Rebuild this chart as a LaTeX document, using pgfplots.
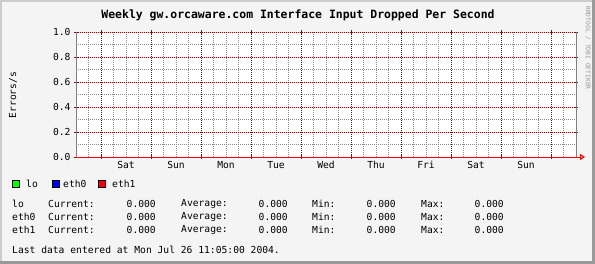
\documentclass[border=0pt]{standalone}
\usepackage{pgfplots}
\pgfplotsset{compat=1.18}
\usepackage{fontspec}
\setmainfont{DejaVu Sans Mono}
\setmonofont{DejaVu Sans Mono}
\usetikzlibrary{arrows.meta}
\definecolor{bg}{RGB}{244,244,244}
\definecolor{lightborder}{RGB}{204,204,204}
\definecolor{darkborder}{RGB}{153,153,153}
\definecolor{gridred}{RGB}{150,0,0}
\definecolor{gridgray}{RGB}{140,140,140}
\definecolor{axgray}{RGB}{128,128,128}
\definecolor{rrdgreen}{RGB}{0,255,0}
\definecolor{rrdblue}{RGB}{0,0,255}
\definecolor{rrdred}{RGB}{255,0,0}
\newcommand{\sm}{\fontsize{9.7}{11}\selectfont}
\begin{document}
\begin{tikzpicture}
\useasboundingbox (0,0) rectangle (595bp,-264bp);
\fill[bg] (0,0) rectangle (595bp,-264bp);
\fill[lightborder] (0,0) rectangle (2bp,-264bp);
\fill[lightborder] (0,0) rectangle (595bp,-2bp);
\fill[darkborder] (592bp,0) rectangle (595bp,-264bp);
\fill[darkborder] (0,-261bp) rectangle (595bp,-264bp);
\fill[white] (76bp,-32bp) rectangle (576bp,-157bp);
\begin{axis}[
  at={(76bp,-157bp)}, anchor=south west,
  scale only axis, width=500bp, height=125bp,
  xmin=0, xmax=240, ymin=0, ymax=1,
  clip=false,
  axis line style={draw=none},
  xtick={12,36,60,84,108,132,156,180,204,228},
  xticklabels={,,,,,,,,,},
  extra x ticks={24,48,72,96,120,144,168,192,216},
  extra x tick labels={Sat,Sun,Mon,Tue,Wed,Thu,Fri,Sat,Sun},
  extra x tick style={grid=none, major tick length=0pt},
  minor xtick={0,6,18,24,30,42,48,54,66,72,78,90,96,102,114,120,126,138,144,150,162,168,174,186,192,198,210,216,222,234,240},
  ytick={0,0.2,0.4,0.6,0.8,1},
  minor ytick={0.1,0.3,0.5,0.7,0.9},
  grid=both,
  major grid style={draw=gridred, dash pattern=on 1bp off 1bp, line width=1bp},
  minor grid style={draw=gridgray, dash pattern=on 1bp off 1bp, line width=1bp},
  tick style={draw=gridred, line width=1bp},
  major tick length=4bp, minor tick length=0pt,
  tick align=center,
  /pgf/number format/assume math mode=true,
  yticklabel={\pgfmathprintnumber[fixed,fixed zerofill,precision=1]{\tick}},
  tick label style={font=\sm},
  xticklabel style={yshift=-1bp},
]
\addplot[rrdgreen, line width=1bp] coordinates {(0,0) (240,0)};
\addplot[rrdblue, line width=1bp] coordinates {(0,0) (240,0)};
\addplot[rrdred, line width=1bp] coordinates {(0,0) (240,0)};
\draw[axgray, line width=1bp] (rel axis cs:0,0) -- (rel axis cs:0,1);
\draw[axgray, line width=1bp] (rel axis cs:1,0) -- (rel axis cs:1,1);
\draw[rrdred, line width=1bp, -{Triangle[open, length=5bp, width=6bp]}] (rel axis cs:1,0) -- ++(9bp,0);
\end{axis}
\begin{scope}[x=1bp,y=-1bp]
\node[font=\bfseries\fontsize{11.5}{13}\selectfont] at (298,15) {Weekly gw.orcaware.com Interface Input Dropped Per Second};
\node[rotate=90, font=\sm] at (13,95) {Errors/s};
\node[rotate=-90, font=\fontsize{6.3}{7}\selectfont, text=darkborder] at (588,48) {RRDTOOL / TOBI OETIKER};
\filldraw[fill=rrdgreen, draw=black, line width=0.8bp] (12.5,180.5) rectangle (19.5,187.5);
\filldraw[fill=rrdblue, draw=black, line width=0.8bp] (52.5,180.5) rectangle (59.5,187.5);
\filldraw[fill=rrdred, draw=black, line width=0.8bp] (98.5,180.5) rectangle (105.5,187.5);
\node[anchor=west, inner sep=0, font=\sm] at (26,184) {lo};
\node[anchor=west, inner sep=0, font=\sm] at (63,184) {eth0};
\node[anchor=west, inner sep=0, font=\sm] at (112,184) {eth1};
\foreach \n/\y in {lo/204, eth0/217, eth1/230}{
  \node[anchor=west, inner sep=0, font=\sm] at (12,\y) {\n};
  \node[anchor=west, inner sep=0, font=\sm] at (48,\y) {Current:};
  \node[anchor=east, inner sep=0, font=\sm] at (156,\y) {0.000};
  \node[anchor=west, inner sep=0, font=\sm] at (181,\y) {Average:};
  \node[anchor=east, inner sep=0, font=\sm] at (288,\y) {0.000};
  \node[anchor=west, inner sep=0, font=\sm] at (312,\y) {Min:};
  \node[anchor=east, inner sep=0, font=\sm] at (396,\y) {0.000};
  \node[anchor=west, inner sep=0, font=\sm] at (421,\y) {Max:};
  \node[anchor=east, inner sep=0, font=\sm] at (504,\y) {0.000};
}
\node[anchor=west, inner sep=0, font=\sm] at (12,250) {Last data entered at Mon Jul 26 11:05:00 2004.};
\end{scope}
\end{tikzpicture}
\end{document}
